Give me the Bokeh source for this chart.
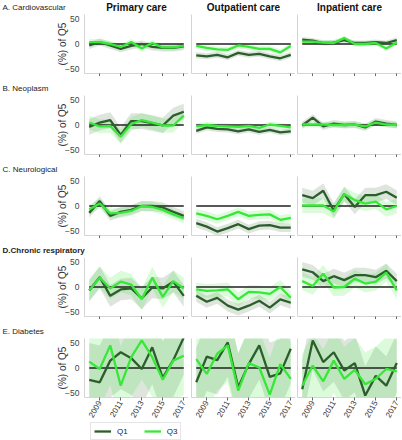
import math
import numpy as np
from bokeh.plotting import figure
from bokeh.layouts import column, row
from bokeh.models import Legend, LegendItem, FixedTicker, Range1d
from bokeh.core.properties import value
from bokeh.embed import file_html
from bokeh.resources import INLINE

# ---------------- data ----------------
years = [2008, 2009, 2010, 2011, 2012, 2013, 2014, 2015, 2016, 2017]
tick_years = [2009, 2011, 2013, 2015, 2017]
y_ticks = [-50, 0, 50]

row_labels = ["A. Cardiovascular", "B. Neoplasm", "C. Neurological",
              "D.Chronic respiratory", "E. Diabetes"]
col_labels = ["Primary care", "Outpatient care", "Inpatient care"]
series_labels = ["Q1", "Q3"]

# Cardiovascular
cardio_prim_q1 = [-3, 4, -3, -10, -4, 0, -6, -8, -8, -5]
cardio_prim_q3 = [4, 4, 0, -6, 4, -9, 2, -7, -7, -4]
cardio_outp_q1 = [-23, -25, -22, -27, -18, -22, -20, -25, -29, -22]
cardio_outp_q3 = [-4, -8, -11, -12, -3, -6, -10, -10, -17, -4]
cardio_inp_q1 = [9, 7, 2, 3, 8, 2, 2, 4, 2, 8]
cardio_inp_q3 = [5, 5, 3, 2, 12, 0, 0, 2, -9, 3]
# Neoplasm
neo_prim_q1 = [-4, 5, 10, -20, 8, 8, 4, -1, 19, 27]
neo_prim_q3 = [5, -3, -2, -24, 2, 10, 5, -1, -1, 19]
neo_outp_q1 = [-12, -5, -8, -9, -13, -9, -14, -10, -15, -13]
neo_outp_q3 = [-3, 0, -2, -3, -4, -2, -6, 1, -2, -5]
neo_inp_q1 = [-1, 15, -3, 3, 0, 1, -5, 7, 3, 0]
neo_inp_q3 = [1, 1, 1, 0, 0, 1, -3, 5, 1, 0]
# Neurological
neuro_prim_q1 = [-14, 10, -20, -12, -8, 0, 0, -3, -12, -20]
neuro_prim_q3 = [-7, 5, -15, -14, -10, 0, -2, -8, -17, -25]
neuro_outp_q1 = [-35, -42, -52, -45, -37, -47, -40, -39, -44, -44]
neuro_outp_q3 = [-15, -20, -27, -20, -12, -20, -18, -17, -28, -24]
neuro_inp_q1 = [22, 16, 31, -9, 24, -2, 22, 22, 29, 17]
neuro_inp_q3 = [1, 1, 1, -11, 24, 12, 5, 9, -7, 0]
# Chronic respiratory
resp_prim_q1 = [-7, 20, -18, -5, -3, -23, -1, -3, 11, -18]
resp_prim_q3 = [-7, 19, -3, 11, 5, -25, 19, -20, 12, -3]
resp_outp_q1 = [-18, -30, -22, -38, -46, -38, -28, -42, -25, -32]
resp_outp_q3 = [-5, -8, -7, -5, -25, -10, -11, -14, 0, -22]
resp_inp_q1 = [36, 30, 12, 22, 14, 24, 24, 20, 33, 12]
resp_inp_q3 = [12, 2, 27, -1, 0, 17, 7, 11, 29, -7]
# Diabetes
diab_prim_q1 = [-24, -29, 15, 32, 20, -2, 42, -20, 16, 62]
diab_prim_q3 = [13, -2, 46, -36, 22, 56, 22, -24, 15, 25]
diab_outp_q1 = [-29, 23, 16, 52, -39, 8, 46, -18, -11, 39]
diab_outp_q3 = [18, -12, 29, 46, -46, 10, 1, -54, 8, -22]
diab_inp_q1 = [-43, 56, 12, 32, -5, 10, -56, -16, -36, 10]
diab_inp_q3 = [-36, 5, -27, 15, -22, -4, -33, -22, -2, -7]

# confidence half-widths (Q1, Q3) per panel
cardio_ci = [(7, 6), (6, 6), (5, 5)]
neo_ci = [(16, 14), (6, 6), (7, 6)]
neuro_ci = [(10, 10), (9, 9), (15, 15)]
resp_ci = [(22, 22), (12, 14), (15, 18)]
diab_ci = [(75, 80), (70, 75), (60, 65)]

panels = [
    [(cardio_prim_q1, cardio_prim_q3), (cardio_outp_q1, cardio_outp_q3), (cardio_inp_q1, cardio_inp_q3)],
    [(neo_prim_q1, neo_prim_q3), (neo_outp_q1, neo_outp_q3), (neo_inp_q1, neo_inp_q3)],
    [(neuro_prim_q1, neuro_prim_q3), (neuro_outp_q1, neuro_outp_q3), (neuro_inp_q1, neuro_inp_q3)],
    [(resp_prim_q1, resp_prim_q3), (resp_outp_q1, resp_outp_q3), (resp_inp_q1, resp_inp_q3)],
    [(diab_prim_q1, diab_prim_q3), (diab_outp_q1, diab_outp_q3), (diab_inp_q1, diab_inp_q3)],
]
cis = [cardio_ci, neo_ci, neuro_ci, resp_ci, diab_ci]

# ---------------- style / layout ----------------
FONT = "Liberation Sans"
Q1_COLOR = "#2c5e2c"
Q3_COLOR = "#38e838"
SPINE = "#d4d4d4"
FW, FH = 104, 59
LEFT = [84, 3, 2]
TOTAL_W = sum(LEFT) + 3 * FW
HEADER_H = [14, 19, 19, 19, 19]
LEGEND_H = 19
col_centers = []
acc = 0
for c in range(3):
    col_centers.append(acc + LEFT[c] + FW / 2)
    acc += LEFT[c] + FW


def bare(h):
    p = figure(width=TOTAL_W, height=h, output_backend="svg", toolbar_location=None,
               x_range=Range1d(0, TOTAL_W), y_range=Range1d(0, h),
               x_axis_type=None, y_axis_type=None, min_border=0)
    p.outline_line_color = None
    p.background_fill_color = "white"
    p.border_fill_color = "white"
    return p


def header(r):
    h = HEADER_H[r]
    p = bare(h)
    p.text(x=[2], y=[7], text=[row_labels[r]], text_font=value(FONT),
           text_font_size="8px", text_font_style="bold" if r == 3 else "normal",
           text_color="#222222", text_align="left", text_baseline="middle")
    if r == 0:
        p.text(x=col_centers, y=[7.5] * 3, text=col_labels, text_font=value(FONT),
               text_font_size="10px", text_font_style="bold", text_color="#111111",
               text_align="center", text_baseline="middle")
    return p


blocks = []
for r in range(5):
    blocks.append(header(r))
    figs = []
    for c in range(3):
        p = figure(width=None, height=None, frame_width=FW, frame_height=FH,
                   output_backend="svg", toolbar_location=None,
                   x_range=Range1d(years[0] - 0.45, years[-1] + 0.45),
                   y_range=Range1d(-60, 60),
                   min_border_left=LEFT[c], min_border_right=0,
                   min_border_top=0, min_border_bottom=3 if r < 4 else 0)
        p.outline_line_color = None
        p.xgrid.visible = False
        p.ygrid.visible = False
        p.background_fill_color = "white"
        p.border_fill_color = "white"

        q1, q3 = panels[r][c]
        h1, h3 = cis[r][c]
        a1 = np.array(q1, dtype=float)
        a3 = np.array(q3, dtype=float)
        p.varea(x=years, y1=a1 - h1, y2=a1 + h1, fill_color=Q1_COLOR, fill_alpha=0.16)
        p.varea(x=years, y1=a3 - h3, y2=a3 + h3, fill_color=Q3_COLOR, fill_alpha=0.18)
        p.line(years, [0] * len(years), line_color="#222222", line_width=1.3)
        p.line(years, q1, line_color=Q1_COLOR, line_width=2.3)
        p.line(years, q3, line_color=Q3_COLOR, line_width=2.3)

        xa = p.xaxis[0]
        xa.ticker = FixedTicker(ticks=tick_years)
        xa.minor_tick_line_color = None
        xa.major_tick_out = 3
        xa.major_tick_in = 0
        xa.major_tick_line_color = "#666666"
        xa.axis_line_color = SPINE
        if r == 4:
            xa.major_label_orientation = math.pi / 3
            xa.major_label_text_font_size = "8px"
            xa.major_label_text_font = FONT
            xa.major_label_text_color = "#333333"
            xa.major_label_standoff = 1
        else:
            xa.major_label_overrides = {t: "" for t in tick_years}
            xa.major_label_text_font_size = "1px"
            xa.major_label_standoff = 0

        ya = p.yaxis[0]
        ya.minor_tick_line_color = None
        ya.major_tick_out = 0
        ya.major_tick_in = 0
        ya.axis_line_color = SPINE
        if c == 0:
            ya.ticker = FixedTicker(ticks=y_ticks)
            ya.major_label_overrides = {-50: "\u221250"}
            ya.major_label_text_font_size = "8.5px"
            ya.major_label_text_font = FONT
            ya.major_label_text_color = "#444444"
            ya.major_label_standoff = 5
            ya.axis_label = "(%) of Q5"
            ya.axis_label_text_font = FONT
            ya.axis_label_text_font_size = "10px"
            ya.axis_label_text_font_style = "normal"
            ya.axis_label_text_color = "#333333"
            ya.axis_label_standoff = -6
        else:
            ya.ticker = FixedTicker(ticks=[])
            ya.major_label_text_font_size = "1px"
            ya.major_label_standoff = 0
        figs.append(p)
    blocks.append(row(*figs, spacing=0))

# legend strip (series samples lie outside its visible range; only the legend shows)
lp = bare(LEGEND_H)
k1 = lp.line(years, diab_prim_q1, line_color=Q1_COLOR, line_width=2.3)
k3 = lp.line(years, diab_prim_q3, line_color=Q3_COLOR, line_width=2.3)
leg = Legend(items=[LegendItem(label=series_labels[0], renderers=[k1]),
                    LegendItem(label=series_labels[1], renderers=[k3])],
             location=(90, 1), orientation="horizontal",
             label_text_font=FONT, label_text_font_size="8px",
             label_text_color="#222222",
             glyph_width=17, glyph_height=10, label_standoff=6, label_width=0,
             spacing=16, padding=3, margin=0,
             border_line_color="#cccccc", background_fill_alpha=1)
lp.add_layout(leg)
blocks.append(lp)

layout = column(*blocks, spacing=0)
open("out.html", "w").write(file_html(layout, INLINE))
